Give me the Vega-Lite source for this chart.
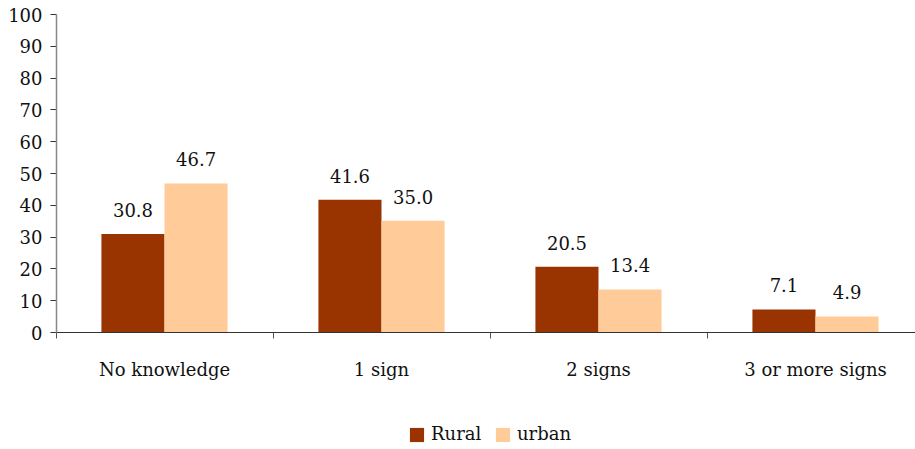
{
  "$schema": "https://vega.github.io/schema/vega-lite/v6.json",
  "autosize": {"type": "none"},
  "padding": {"left": 56, "top": 14, "right": 0, "bottom": 117},
  "width": 868,
  "height": 318,
  "background": "white",
  "data": {
    "values": [
      {"category": "No knowledge", "area": "Rural", "pct": 30.8},
      {"category": "No knowledge", "area": "urban", "pct": 46.7},
      {"category": "1 sign", "area": "Rural", "pct": 41.6},
      {"category": "1 sign", "area": "urban", "pct": 35.0},
      {"category": "2 signs", "area": "Rural", "pct": 20.5},
      {"category": "2 signs", "area": "urban", "pct": 13.4},
      {"category": "3 or more signs", "area": "Rural", "pct": 7.1},
      {"category": "3 or more signs", "area": "urban", "pct": 4.9}
    ]
  },
  "encoding": {
    "x": {
      "field": "category",
      "type": "nominal",
      "sort": ["No knowledge", "1 sign", "2 signs", "3 or more signs"],
      "scale": {"paddingInner": 0, "paddingOuter": 0},
      "axis": {
        "title": null,
        "labelAngle": 0,
        "bandPosition": 0,
        "domainColor": "#333333",
        "tickColor": "#555555",
        "tickSize": 6,
        "labelPadding": 23,
        "labelFontSize": 18,
        "labelColor": "#111111"
      }
    },
    "xOffset": {
      "field": "area",
      "type": "nominal",
      "scale": {"paddingInner": 0, "paddingOuter": 0.72}
    },
    "y": {
      "field": "pct",
      "type": "quantitative",
      "scale": {"domain": [0, 100]},
      "axis": {
        "title": null,
        "values": [0, 10, 20, 30, 40, 50, 60, 70, 80, 90, 100],
        "grid": false,
        "domainColor": "#888888",
        "domainWidth": 1.5,
        "tickColor": "#333333",
        "tickSize": 6,
        "labelPadding": 8,
        "labelFontSize": 18,
        "labelColor": "#111111",
        "labelBaseline": "middle",
        "labelOffset": 2
      }
    }
  },
  "layer": [
    {
      "mark": {"type": "bar"},
      "encoding": {
        "color": {
          "field": "area",
          "type": "nominal",
          "scale": {"domain": ["Rural", "urban"], "range": ["#993300", "#FFCC99"]},
          "legend": {
            "title": null,
            "orient": "bottom",
            "direction": "horizontal",
            "offset": 47,
            "symbolType": "square",
            "symbolSize": 200,
            "symbolStrokeWidth": 0,
            "symbolOpacity": 1,
            "labelFontSize": 18,
            "labelColor": "#111111",
            "labelOffset": 5,
            "columnPadding": 12
          }
        }
      }
    },
    {
      "mark": {
        "type": "text",
        "baseline": "alphabetic",
        "dy": -17,
        "fontSize": 18,
        "color": "#111111"
      },
      "encoding": {
        "text": {"field": "pct", "type": "quantitative", "format": ".1f"}
      }
    }
  ],
  "config": {
    "font": "DejaVu Serif",
    "view": {"stroke": null},
    "legend": {"layout": {"bottom": {"anchor": "middle"}}}
  }
}
